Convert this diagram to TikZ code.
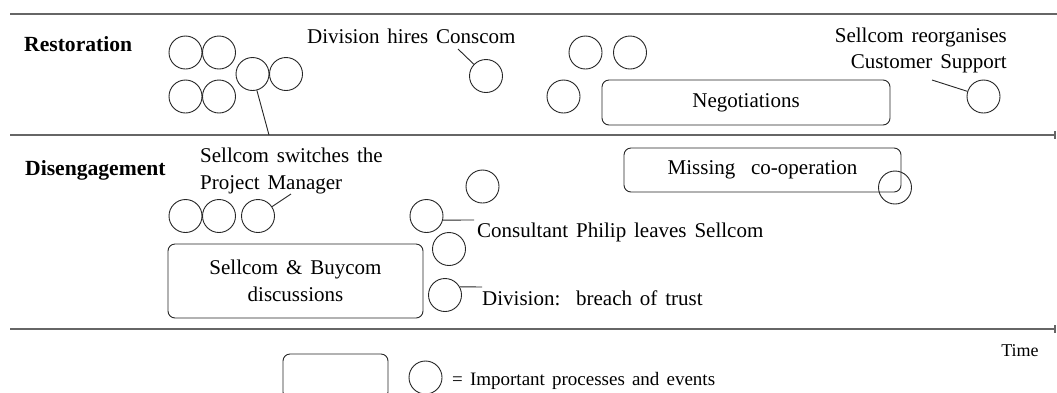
\documentclass[tikz,border=0pt]{standalone}
\usepackage{fontspec}
\setmainfont{Liberation Serif}[WordSpace=1.5]
\usetikzlibrary{arrows.meta}
\begin{document}
\begin{tikzpicture}[x=1pt,y=-1pt,
  font=\fontsize{21}{25}\selectfont,
  ev/.style={circle,draw=black!85,line width=0.9pt,minimum size=33pt,inner sep=0pt},
  proc/.style={draw=black!85,rounded corners=7pt,line width=0.9pt,inner sep=0pt,align=center},
  axis/.style={draw=black!60,line width=1.4pt},
  lbl/.style={anchor=base west,inner sep=0pt},
  lblr/.style={anchor=base east,inner sep=0pt},
  lblc/.style={anchor=base,inner sep=0pt},
  phase/.style={anchor=base west,inner sep=0pt,font=\fontsize{21.6}{25}\selectfont\bfseries},
  conn/.style={draw=black!85,line width=0.9pt}]
\clip (0,0) rectangle (1057,392);
\fill[white] (0,0) rectangle (1057,392);

% axes
\coordinate (t0) at (10,14);   \coordinate (t1) at (1057,14);
\coordinate (m0) at (10,135);  \coordinate (m1) at (1056,135);
\coordinate (b0) at (10,329);  \coordinate (b1) at (1056,329);
\draw[axis] (t0) -- (t1);
\draw[axis,-{Bar[width=8pt,line width=2.5pt]}] (m0) -- (m1);
\draw[axis,-{Bar[width=8pt,line width=2.5pt]}] (b0) -- (b1);

% phase labels
\node[phase] (restoration) at (24,51) {Restoration};
\node[phase] (disengagement) at (25,175) {Disengagement};

% Restoration events
\node[ev] (r1) at (185.5,52.5) {};
\node[ev] (r2) at (219,52.5) {};
\node[ev] (r3) at (185.5,96.5) {};
\node[ev] (r4) at (219,96.5) {};
\node[ev] (r5) at (252.5,74) {};
\node[ev] (r6) at (286,74) {};
\coordinate (r5end) at (269,135);
\draw[conn] (r5.-75) -- (r5end);

\node[lbl] (hires) at (307,43) {Division hires Conscom};
\node[ev] (conscom) at (486,76) {};
\coordinate (hiresend) at (458,49);
\draw[conn] (hiresend) -- (conscom);

\node[ev] (r7) at (585.5,52.5) {};
\node[ev] (r8) at (630,52.5) {};
\node[ev] (r9) at (563.5,96.5) {};
\node[proc,minimum width=288pt,minimum height=45pt] (nego) at (746,102.5) {Negotiations};

\node[lblr] (reorg1) at (1007,42) {Sellcom reorganises};
\node[lblr] (reorg2) at (1007,68) {Customer Support};
\node[ev] (support) at (983.5,96.5) {};
\coordinate (reorgend) at (932,80);
\draw[conn] (reorgend) -- (support);

% Disengagement events
\node[lbl] (switch1) at (200,162) {Sellcom switches the};
\node[lbl] (switch2) at (200,189) {Project Manager};
\node[ev] (d1) at (185.5,216) {};
\node[ev] (d2) at (219,216) {};
\node[ev] (d3) at (258,216) {};
\coordinate (switchend) at (291,194);
\draw[conn] (d3) -- (switchend);

\node[proc,minimum width=255pt,minimum height=74pt,font=\fontsize{21}{27}\selectfont] (disc) at (295.5,281) {Sellcom \& Buycom\\discussions};

\node[ev] (d4) at (482.5,186.5) {};
\node[ev] (philip) at (426.5,216) {};
\node[ev] (d5) at (449,249) {};
\node[ev] (breach) at (445,295) {};
\coordinate (philipend) at (474,220);
\draw[conn] (philip.-14) -- (philipend);
\node[lbl] (philiptxt) at (477,237) {Consultant Philip leaves Sellcom};
\coordinate (breachend) at (482,287);
\draw[conn] (breach.29) -- (breachend);
\node[lbl] (breachtxt) at (482,305) {Division:\ \ breach of trust};

\node[proc,minimum width=277pt,minimum height=44pt] (missing) at (762.5,170) {Missing\ \ co-operation};
\node[ev] (d6) at (895,187.5) {};

% time label
\node[lblc,font=\fontsize{18}{22}\selectfont] (time) at (1020,356) {Time};

% legend
\node[proc,minimum width=105pt,minimum height=45pt] (legbox) at (335.5,376.5) {};
\node[ev] (legcirc) at (425.5,377.5) {};
\node[lbl,font=\fontsize{19}{23}\selectfont] (legtxt) at (452,385) {= Important processes and events};
\end{tikzpicture}
\end{document}
